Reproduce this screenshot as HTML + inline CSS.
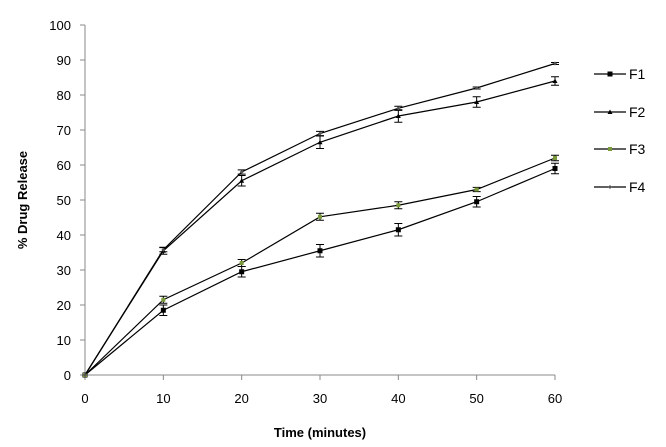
<!DOCTYPE html>
<html><head><meta charset="utf-8"><style>
body{margin:0;background:#fff}
svg{display:block;font-family:"Liberation Sans",Arial,sans-serif}
</style></head><body>
<svg id="chart" width="666" height="447">
<g id="axes"></g>
<g id="series"></g>
<g id="legend"></g>
<text x="320" y="437" text-anchor="middle" font-size="13" font-weight="bold">Time (minutes)</text>
<text transform="translate(27,200) rotate(-90)" text-anchor="middle" font-size="13" font-weight="bold">% Drug Release</text>
</svg>
<script>
const times=[0,10,20,30,40,50,60];
const f1=[0,18.5,29.5,35.5,41.5,49.5,59];
const f2=[0,35.5,55.5,66.5,74,78,84];
const f3=[0,21.5,32,45.2,48.5,53,62];
const f4=[0,35.8,58,69,76.2,82,89];
const f1err=[0,1.5,1.5,1.8,1.8,1.5,1.5];
const f2err=[0,1,1.5,1.8,1.8,1.5,1.2];
const f3err=[0,1,1,1,1,0.6,0.8];
const f4err=[0,0.6,0.6,0.6,0.6,0.3,0.3];
const yTicks=[0,10,20,30,40,50,60,70,80,90,100];
const xTicks=[0,10,20,30,40,50,60];
const names=["F1","F2","F3","F4"];
const NS="http://www.w3.org/2000/svg";
const X=v=>85+v*(470/60), Y=v=>375-v*3.5;
function mk(t,a,p){const e=document.createElementNS(NS,t);for(const k in a)e.setAttribute(k,a[k]);p.appendChild(e);return e;}
const ax=document.getElementById('axes');
let l=mk('line',{x1:85,y1:Y(0),x2:85,y2:Y(100),stroke:'#888','stroke-width':1},ax);


l=mk('line',{x1:85,y1:Y(0),x2:X(60),y2:Y(0),stroke:'#888','stroke-width':1},ax);


yTicks.forEach(v=>{mk('line',{x1:80,x2:85,y1:Y(v),y2:Y(v),stroke:'#888'},ax);
 const t=mk('text',{x:71,y:Y(v)+5,'text-anchor':'end','font-size':13},ax);t.textContent=v;
 
 });
xTicks.forEach(v=>{mk('line',{x1:X(v),x2:X(v),y1:375,y2:380,stroke:'#888'},ax);
 const t=mk('text',{x:X(v),y:403,'text-anchor':'middle','font-size':13},ax);t.textContent=v;
 
 });
const data=[f1,f2,f3,f4],errs=[f1err,f2err,f3err,f4err];
const mcol=['#000','#000','#7a9a3a','#555'];
const sg=document.getElementById('series');
function marker(i,x,y,p){
 if(i===0)mk('rect',{x:x-2.5,y:y-2.5,width:5,height:5,fill:'#000'},p);
 else if(i===1)mk('path',{d:`M${x-2.5},${y+2} L${x+2.5},${y+2} L${x},${y-2.5}Z`,fill:'#000'},p);
 else if(i===2)mk('rect',{x:x-2,y:y-2,width:4,height:4,fill:mcol[2]},p);
 else mk('path',{d:`M${x-2},${y} L${x},${y-2} L${x+2},${y} L${x},${y+2}Z`,fill:mcol[3]},p);
}
data.forEach((d,i)=>{
 const g=mk('g',{},sg);
 
 
 mk('polyline',{points:d.map((v,j)=>X(times[j])+','+Y(v)).join(' '),fill:'none',stroke:'#000','stroke-width':1.2},g);
 d.forEach((v,j)=>{const x=X(times[j]),e=errs[i][j];
  if(e>0){mk('path',{d:`M${x},${Y(v+e)} V${Y(v-e)} M${x-4},${Y(v+e)} H${x+4} M${x-4},${Y(v-e)} H${x+4}`,stroke:'#000','stroke-width':1,fill:'none'},g);}
  marker(i,x,Y(v),g);});
});
const lg=document.getElementById('legend');
names.forEach((n,i)=>{const y=[74,112,149,187][i];
 const g=mk('g',{},lg);
 
 
 mk('line',{x1:594,x2:626,y1:y,y2:y,stroke:'#000','stroke-width':1.2},g);
 marker(i,610,y,g);
 const t=mk('text',{x:629,y:y+5,'font-size':14},g);t.textContent=n;});
</script>
</body></html>
